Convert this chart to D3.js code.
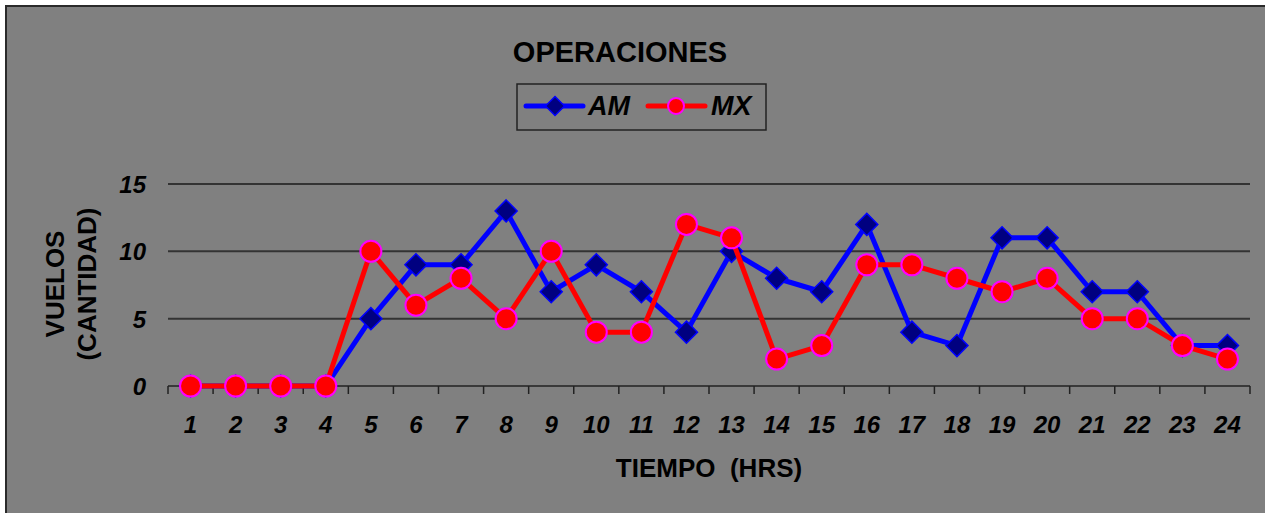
<!DOCTYPE html>
<html>
<head>
<meta charset="utf-8">
<script src="https://cdn.jsdelivr.net/npm/d3@7"></script>
<style>
  body { margin: 0; background: #ffffff; }
  text { font-family: "Liberation Sans", Arial, sans-serif; fill: #000; }
</style>
</head>
<body>
<svg id="chart"></svg>
<script>
// Chart data
const hours = ["1","2","3","4","5","6","7","8","9","10","11","12","13","14","15","16","17","18","19","20","21","22","23","24"];
const amValues = [0,0,0,0,5,9,9,13,7,9,7,4,10,8,7,12,4,3,11,11,7,7,3,3];
const mxValues = [0,0,0,0,10,6,8,5,10,4,4,12,11,2,3,9,9,8,7,8,5,5,3,2];
const yTicks = [0,5,10,15];

const width = 1265;
const height = 513;

const svg = d3.select("#chart")
    .attr("width", width)
    .attr("height", height);

// Gray chart area with dark border
svg.append("rect")
    .attr("x", 6).attr("y", 6)
    .attr("width", width).attr("height", height)
    .attr("fill", "#808080")
    .attr("stroke", "#2a2a2a")
    .attr("stroke-width", 2);

const plot = { left: 168, right: 1250, top: 184, bottom: 386 };

const x = d3.scaleBand()
    .domain(hours)
    .range([plot.left, plot.right]);

const y = d3.scaleLinear()
    .domain([0, 15])
    .range([plot.bottom, plot.top]);

// Gridlines
svg.append("g")
    .selectAll("line")
    .data(yTicks.filter(d => d > 0))
    .enter().append("line")
    .attr("x1", plot.left)
    .attr("x2", plot.right)
    .attr("y1", d => y(d))
    .attr("y2", d => y(d))
    .attr("stroke", "#333")
    .attr("stroke-width", 2);

// Y tick labels
svg.append("g")
    .selectAll("text")
    .data(yTicks)
    .enter().append("text")
    .attr("x", 146)
    .attr("y", d => y(d) + 9)
    .attr("text-anchor", "end")
    .style("font-size", "24px")
    .style("font-weight", "bold")
    .style("font-style", "italic")
    .text(d => d);

// X axis line with ticks between categories
const xAxis = svg.append("g");
xAxis.append("line")
    .attr("x1", plot.left).attr("x2", plot.right)
    .attr("y1", plot.bottom).attr("y2", plot.bottom)
    .attr("stroke", "#222").attr("stroke-width", 1.5);
const boundaries = hours.map(h => x(h)).concat([plot.right]);
xAxis.selectAll(".tick")
    .data(boundaries)
    .enter().append("line")
    .attr("class", "tick")
    .attr("x1", d => d).attr("x2", d => d)
    .attr("y1", plot.bottom).attr("y2", plot.bottom + 8)
    .attr("stroke", "#222").attr("stroke-width", 1.5);

xAxis.selectAll("text")
    .data(hours)
    .enter().append("text")
    .attr("x", d => x(d) + x.bandwidth() / 2)
    .attr("y", 433)
    .attr("text-anchor", "middle")
    .style("font-size", "24px")
    .style("font-weight", "bold")
    .style("font-style", "italic")
    .text(d => d);

// Axis titles
svg.append("text")
    .attr("x", 709).attr("y", 477)
    .attr("text-anchor", "middle")
    .style("font-size", "26px")
    .style("font-weight", "bold")
    .attr("xml:space", "preserve")
    .text("TIEMPO  (HRS)");

const yTitle = svg.append("text")
    .attr("transform", "translate(64,284) rotate(-90)")
    .attr("text-anchor", "middle")
    .style("font-size", "26px")
    .style("font-weight", "bold");
yTitle.append("tspan").attr("x", 0).attr("dy", 0).text("VUELOS");
yTitle.append("tspan").attr("x", 0).attr("dy", 32).text("(CANTIDAD)");

// Title
svg.append("text")
    .attr("x", 620).attr("y", 62)
    .attr("text-anchor", "middle")
    .style("font-size", "29px")
    .style("font-weight", "bold")
    .text("OPERACIONES");

// Lines
const line = d3.line()
    .x((d, i) => x(hours[i]) + x.bandwidth() / 2)
    .y(d => y(d));

const diamond = d3.symbol().type(d3.symbolDiamond2).size(310);

function drawAM(g) {
    g.append("path")
        .datum(amValues)
        .attr("fill", "none")
        .attr("stroke", "#0000ff")
        .attr("stroke-width", 5)
        .attr("stroke-linejoin", "round")
        .attr("d", line);
    g.selectAll(".am-pt")
        .data(amValues)
        .enter().append("path")
        .attr("class", "am-pt")
        .attr("transform", (d, i) => `translate(${x(hours[i]) + x.bandwidth() / 2},${y(d)})`)
        .attr("d", diamond)
        .attr("fill", "#000080")
        .attr("stroke", "#0000ff")
        .attr("stroke-width", 1.5);
}

function drawMX(g) {
    g.append("path")
        .datum(mxValues)
        .attr("fill", "none")
        .attr("stroke", "#ff0000")
        .attr("stroke-width", 5)
        .attr("stroke-linejoin", "round")
        .attr("d", line);
    g.selectAll(".mx-pt")
        .data(mxValues)
        .enter().append("circle")
        .attr("class", "mx-pt")
        .attr("cx", (d, i) => x(hours[i]) + x.bandwidth() / 2)
        .attr("cy", d => y(d))
        .attr("r", 10.5)
        .attr("fill", "#ff0000")
        .attr("stroke", "#ff00ff")
        .attr("stroke-width", 2);
}

drawAM(svg.append("g"));
drawMX(svg.append("g"));

// Legend
const legend = svg.append("g").attr("transform", "translate(517,84)");
legend.append("rect")
    .attr("width", 249).attr("height", 46)
    .attr("fill", "#808080")
    .attr("stroke", "#222").attr("stroke-width", 1.5);

legend.append("line")
    .attr("x1", 9).attr("x2", 66).attr("y1", 22).attr("y2", 22)
    .attr("stroke", "#0000ff").attr("stroke-width", 5).attr("stroke-linecap", "round");
legend.append("path")
    .attr("transform", "translate(38,22)")
    .attr("d", d3.symbol().type(d3.symbolDiamond2).size(230))
    .attr("fill", "#000080").attr("stroke", "#0000ff").attr("stroke-width", 1.5);
legend.append("text")
    .attr("x", 71).attr("y", 31)
    .style("font-size", "27px").style("font-weight", "bold").style("font-style", "italic")
    .text("AM");

legend.append("line")
    .attr("x1", 131).attr("x2", 188).attr("y1", 22).attr("y2", 22)
    .attr("stroke", "#ff0000").attr("stroke-width", 5).attr("stroke-linecap", "round");
legend.append("circle")
    .attr("cx", 159).attr("cy", 22).attr("r", 8)
    .attr("fill", "#ff0000").attr("stroke", "#ff00ff").attr("stroke-width", 2);
legend.append("text")
    .attr("x", 194).attr("y", 31)
    .style("font-size", "27px").style("font-weight", "bold").style("font-style", "italic")
    .text("MX");
</script>
</body>
</html>
